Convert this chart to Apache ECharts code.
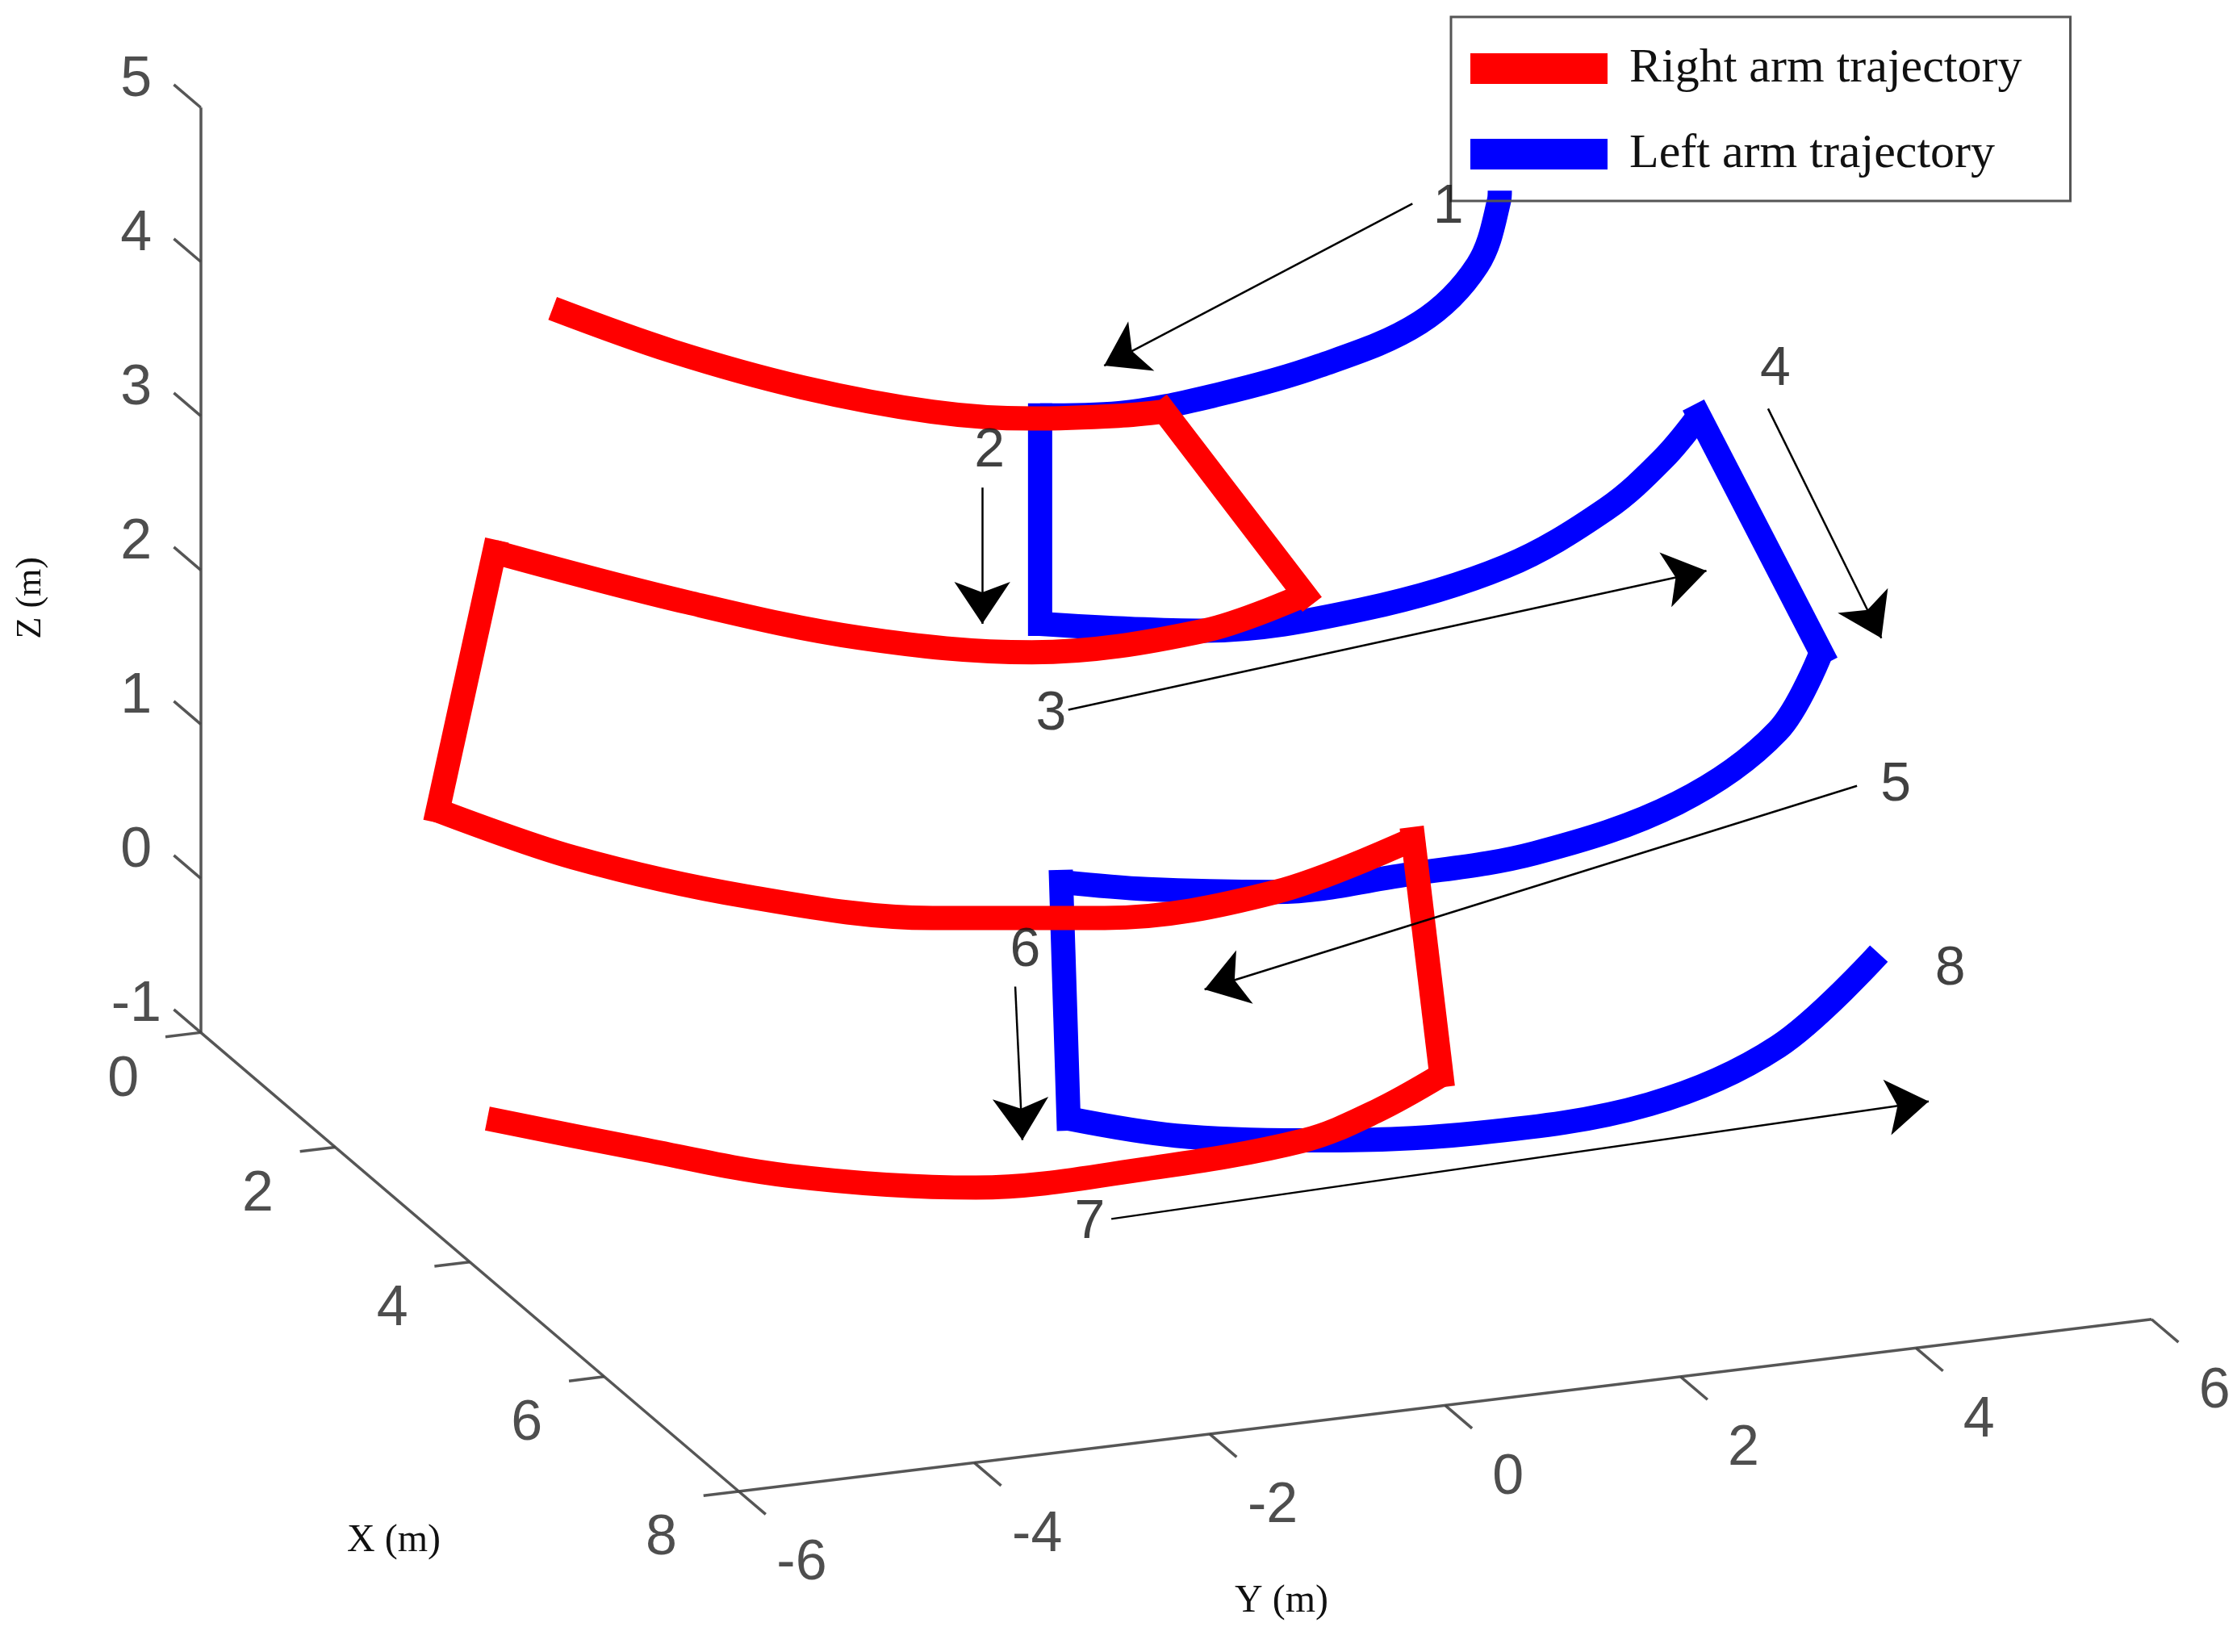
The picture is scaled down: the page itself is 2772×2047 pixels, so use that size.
<!DOCTYPE html>
<html>
<head>
<meta charset="utf-8">
<script src="https://cdn.jsdelivr.net/npm/echarts@6/dist/echarts.min.js"></script>
<style>html,body{margin:0;padding:0;background:#fff}#chart{width:2772px;height:2047px}</style>
</head>
<body>
<div id="chart"></div>
<script>
// 3D points [x, y, z] in metres; one array per horizontal sweep
const rightArcs = [
  [[0.19, -3.12, 3.5], [1.07, -2.6, 3.5], [1.86, -1.95, 3.5], [2.47, -1.2, 3.5], [2.76, -0.52, 3.5], [2.88, 0.15, 3.5], [2.90, 0.53, 3.5]],
  [[2.43, 1.99, 2], [2.79, 0.93, 2], [2.80, -0.54, 2], [2.26, -1.69, 2], [1.40, -2.66, 2], [0.27, -3.66, 2]],
  [[0.11, -4.05, 0.3], [1.08, -3.45, 0.3], [1.99, -2.51, 0.3], [2.67, -1.31, 0.3], [2.99, -0.03, 0.3], [2.91, 1.47, 0.3], [2.36, 2.95, 0.3]],
  [[1.31, 3.79, -1.7], [1.74, 2.99, -1.7], [2.05, 2.2, -1.7], [2.19, 0.79, -1.7], [2.16, -0.65, -1.7], [1.63, -1.94, -1.7], [0.90, -2.86, -1.7], [0.20, -3.68, -1.7]],
];
const leftArcs = [
  [[0.2, 4.92, 3.52], [0.31, 4.85, 3.5], [1.25, 4.13, 3.5], [2.02, 3.2, 3.5], [2.49, 2.08, 3.5], [2.74, 1.08, 3.5], [2.84, 0.18, 3.5], [2.73, -0.43, 3.5]],
  [[2.38, -0.23, 2], [2.79, 0.93, 2], [2.76, 2.29, 2], [2.37, 3.73, 2], [1.68, 4.98, 2], [1.02, 5.84, 2], [0.43, 6.48, 2]],
  [[0.27, 7.61, 0.3], [1.39, 6.6, 0.3], [2.30, 5.23, 0.3], [2.80, 3.73, 0.3], [2.89, 2.58, 0.3], [2.91, 1.47, 0.3], [2.63, 0.54, 0.3], [2.36, -0.04, 0.3]],
  [[1.28, 0.64, -1.7], [1.74, 1.29, -1.7], [2.05, 2.2, -1.7], [2.26, 3.55, -1.7], [2.14, 5.08, -1.7], [1.50, 6.54, -1.7], [0.27, 8.1, -1.7]],
];
const xTicks = [0, 2, 4, 6, 8];
const yTicks = [-6, -4, -2, 0, 2, 4, 6];
const zTicks = [-1, 0, 1, 2, 3, 4, 5];

// annotations in the 2D picture frame (1560 x 1152 units)
const arrows = [
  [[985, 142], [770, 255]],
  [[685, 340], [685, 435]],
  [[745, 495], [1190, 398]],
  [[1233, 285], [1312, 445]],
  [[1295, 548], [840, 690]],
  [[708, 688], [713, 795]],
  [[775, 850], [1345, 768]],
];
const stepLabels = [
  ['1', 1010, 145], ['2', 690, 315], ['3', 733, 498], ['4', 1238, 258],
  ['5', 1322, 548], ['6', 715, 663], ['7', 760, 853], ['8', 1360, 676],
];

// oblique projection matching the picture's view
const proj = ([x, y, z]) => [
  140 + 46.9 * x + 82.1 * (y + 6),
  720 + 40 * x - 10 * (y + 6) - 107.5 * (z + 1),
];

const axisColor = '#444';
const seg = (a, b) => ({ coords: [proj(a), proj(b)] });

const axisSegs = [
  seg([0, -6, -1], [0, -6, 5]),
  seg([0, -6, -1], [8, -6, -1]),
  seg([8, -6, -1], [8, 6, -1]),
];
zTicks.forEach((z) => axisSegs.push(seg([0, -6, z], [-0.4, -6, z])));
xTicks.forEach((x) => axisSegs.push(seg([x, -6, -1], [x, -6.3, -1])));
yTicks.forEach((y) => axisSegs.push(seg([8, y, -1], [8.4, y, -1])));

const tickLabel = (pts, txt, offset) => ({
  type: 'scatter',
  symbolSize: 0,
  silent: true,
  data: pts.map((p, i) => ({ value: proj(p), name: String(txt[i]) })),
  label: {
    show: true, position: 'inside', offset: offset, formatter: '{b}',
    fontFamily: 'Liberation Sans', fontSize: 70, color: '#222',
  },
});

// each arm: smooth sweeps plus straight drops between them
const armSeries = (arcs, name, color, z) => {
  const out = [];
  arcs.forEach((arc, i) => {
    out.push({
      name, type: 'line', symbol: 'none', color, smooth: 0.35, z,
      lineStyle: { width: 30, join: 'round', cap: 'butt' },
      data: arc.map(proj),
    });
    if (i < arcs.length - 1) {
      out.push({
        name, type: 'line', symbol: 'none', color, z,
        lineStyle: { width: 30, join: 'miter', cap: 'square' },
        data: [arc[arc.length - 1], arcs[i + 1][0]].map(proj),
      });
    }
  });
  return out;
};

const chart = echarts.init(document.getElementById('chart'));
chart.setOption({
  animation: false,
  backgroundColor: '#fff',
  grid: { left: 0, right: 0, top: 0, bottom: 0 },
  xAxis: { type: 'value', min: 0, max: 1560, show: false },
  yAxis: { type: 'value', min: 0, max: 1152, inverse: true, show: false },
  legend: {
    orient: 'vertical', left: 1798, top: 21,
    data: ['Right arm trajectory', 'Left arm trajectory'],
    icon: 'rect', itemWidth: 170, itemHeight: 38, itemGap: 46,
    padding: [34, 60, 28, 24],
    borderColor: '#555', borderWidth: 3,
    textStyle: { fontFamily: 'Liberation Serif', fontSize: 60, color: '#111', padding: [0, 0, 0, 22] },
  },
  graphic: [
    { type: 'text', left: 16, top: 690, rotation: Math.PI / 2,
      style: { text: 'Z (m)', font: '44px "Liberation Serif"', fill: '#111' } },
    { type: 'text', left: 430, top: 1885,
      style: { text: 'X (m)', font: '48px "Liberation Serif"', fill: '#111' } },
    { type: 'text', left: 1530, top: 1960,
      style: { text: 'Y (m)', font: '48px "Liberation Serif"', fill: '#111' } },
  ],
  series: [
    {
      type: 'lines', coordinateSystem: 'cartesian2d', silent: true,
      lineStyle: { color: axisColor, width: 3.5, opacity: 0.9 }, data: axisSegs,
    },
    tickLabel(zTicks.map((z) => [0, -6, z]), zTicks, [-80, -34]),
    tickLabel(xTicks.map((x) => [x, -6, -1]), xTicks, [-96, 59]),
    tickLabel(yTicks.map((y) => [8, y, -1]), yTicks, [78, 90]),
    ...armSeries(leftArcs, 'Left arm trajectory', '#0000ff', 2),
    ...armSeries(rightArcs, 'Right arm trajectory', '#ff0000', 3),
    {
      type: 'lines', coordinateSystem: 'cartesian2d', silent: true, z: 5,
      symbol: ['none', 'arrow'], symbolSize: [30, 52],
      lineStyle: { color: '#000', width: 2.5, opacity: 1 },
      data: arrows.map((a) => ({ coords: a })),
    },
    {
      type: 'scatter', symbolSize: 0, silent: true, z: 5,
      data: stepLabels.map((s) => ({ name: s[0], value: [s[1], s[2]] })),
      label: {
        show: true, position: 'inside', formatter: '{b}',
        fontFamily: 'Liberation Sans', fontSize: 68, color: '#111',
      },
    },
  ],
});
</script>
</body>
</html>
